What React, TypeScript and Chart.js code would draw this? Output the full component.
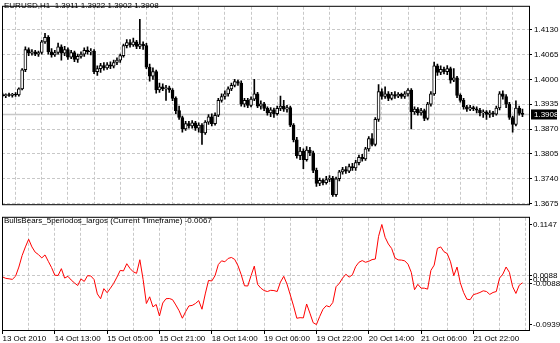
import React, { useEffect, useRef } from 'react';
import { Chart, registerables } from 'chart.js';

Chart.register(...registerables);

const symbolTitle = 'EURUSD,H1  1.3911 1.3922 1.3902 1.3908';
const indicatorTitle = 'BullsBears_5periodos_largos (Current Timeframe) -0.0067';
const timeLabels = ['13 Oct 2010', '14 Oct 13:00', '15 Oct 05:00', '15 Oct 21:00', '18 Oct 14:00', '19 Oct 06:00', '19 Oct 22:00', '20 Oct 14:00', '21 Oct 06:00', '21 Oct 22:00'];
const barsPerLabel = 16;
const barsPerGrid = 8;
const priceTicks = [1.3675, 1.374, 1.3805, 1.387, 1.3935, 1.4, 1.4065, 1.413];
const lastPrice = 1.3908;
const indicatorTicks = [-0.0939, -0.0088, 0, 0.0088, 0.1147];
const indicatorGrid = [-0.0088, 0.0088];

const opens = [
  1.3960, 1.3957, 1.3960, 1.3958, 1.3961, 1.3959, 1.3975, 1.4025, 1.4078, 1.4068,
  1.4072, 1.4066, 1.4070, 1.4098, 1.4110, 1.4072, 1.4064, 1.4070, 1.4085, 1.4068,
  1.4078, 1.4058, 1.4070, 1.4052, 1.4060, 1.4066, 1.4076, 1.4072, 1.4074, 1.4020,
  1.4028, 1.4036, 1.4030, 1.4038, 1.4034, 1.4044, 1.4050, 1.4062, 1.4088, 1.4096,
  1.4090, 1.4098, 1.4086, 1.4092, 1.4088, 1.4032, 1.4008, 1.4020, 1.3972, 1.3980,
  1.3975, 1.3978, 1.3972, 1.3950, 1.3918, 1.3900, 1.3870, 1.3884, 1.3878, 1.3886,
  1.3872, 1.3880, 1.3860, 1.3888, 1.3902, 1.3884, 1.3906, 1.3945, 1.3955, 1.3962,
  1.3975, 1.3984, 1.3994, 1.3990, 1.3935, 1.3945, 1.3932, 1.3948, 1.3962, 1.3930,
  1.3936, 1.3924, 1.3912, 1.3920, 1.3910, 1.3924, 1.3930, 1.3922, 1.3926, 1.3880,
  1.3842, 1.3800, 1.3812, 1.3790, 1.3815, 1.3808, 1.3762, 1.3728, 1.3736, 1.3730,
  1.3738, 1.3742, 1.3698, 1.3740, 1.3758, 1.3764, 1.3760, 1.3772, 1.3768, 1.3782,
  1.3796, 1.3792, 1.3818, 1.3845, 1.3830, 1.3895, 1.3968, 1.3955, 1.3962, 1.3950,
  1.3960, 1.3956, 1.3961, 1.3955, 1.3962, 1.3972, 1.3915, 1.3922, 1.3912, 1.3918,
  1.3898, 1.3935, 1.3962, 1.4035, 1.4018, 1.4026, 1.4020, 1.4028, 1.3998, 1.4004,
  1.3958, 1.3945, 1.3928, 1.3922, 1.3926, 1.3923, 1.3919, 1.3912, 1.3915, 1.3908,
  1.3912, 1.3909, 1.3925, 1.3962, 1.3955, 1.3935, 1.3900, 1.3882, 1.3925, 1.3911,
];
const highs = [
  1.3964, 1.3962, 1.3964, 1.3963, 1.3965, 1.3978, 1.4028, 1.4085, 1.4082, 1.4078,
  1.4076, 1.4074, 1.4102, 1.4120, 1.4114, 1.4080, 1.4076, 1.4095, 1.4090, 1.4086,
  1.4082, 1.4076, 1.4074, 1.4066, 1.4072, 1.4082, 1.4085, 1.4080, 1.4078, 1.4035,
  1.4042, 1.4044, 1.4044, 1.4046, 1.4050, 1.4056, 1.4066, 1.4092, 1.4104, 1.4104,
  1.4108, 1.4102, 1.4157, 1.4098, 1.4094, 1.4040, 1.4030, 1.4024, 1.3990, 1.3988,
  1.3984, 1.3982, 1.3976, 1.3954, 1.3930, 1.3904, 1.3890, 1.3890, 1.3892, 1.3890,
  1.3886, 1.3884, 1.3892, 1.3908, 1.3910, 1.3912, 1.3950, 1.3962, 1.3970, 1.3980,
  1.3990, 1.4000, 1.3998, 1.3996, 1.3950, 1.3950, 1.3954, 1.4000, 1.3966, 1.3944,
  1.3940, 1.3928, 1.3926, 1.3925, 1.3930, 1.3956, 1.3945, 1.3932, 1.3930, 1.3884,
  1.3848, 1.3822, 1.3818, 1.3824, 1.3822, 1.3812, 1.3768, 1.3742, 1.3740, 1.3746,
  1.3748, 1.3746, 1.3744, 1.3762, 1.3770, 1.3772, 1.3778, 1.3780, 1.3788, 1.3802,
  1.3804, 1.3822, 1.3850, 1.3858, 1.3900, 1.3986, 1.3975, 1.3980, 1.3968, 1.3966,
  1.3968, 1.3965, 1.3964, 1.3968, 1.3976, 1.3976, 1.3928, 1.3926, 1.3924, 1.3922,
  1.3940, 1.3968, 1.4045, 1.4040, 1.4035, 1.4032, 1.4036, 1.4032, 1.4028, 1.4008,
  1.3962, 1.3950, 1.3932, 1.3932, 1.3930, 1.3928, 1.3924, 1.3920, 1.3918, 1.3918,
  1.3916, 1.3930, 1.3968, 1.3970, 1.3960, 1.3940, 1.3904, 1.3944, 1.3930, 1.3922,
];
const lows = [
  1.3954, 1.3952, 1.3955, 1.3953, 1.3955, 1.3956, 1.3972, 1.4020, 1.4062, 1.4063,
  1.4062, 1.4060, 1.4066, 1.4094, 1.4066, 1.4058, 1.4060, 1.4066, 1.4050, 1.4062,
  1.4052, 1.4054, 1.4046, 1.4044, 1.4055, 1.4060, 1.4066, 1.4064, 1.4015, 1.4010,
  1.4018, 1.4024, 1.4026, 1.4028, 1.4030, 1.4038, 1.4044, 1.4058, 1.4082, 1.4084,
  1.4086, 1.4080, 1.4080, 1.4078, 1.4028, 1.3995, 1.4000, 1.3964, 1.3966, 1.3970,
  1.3945, 1.3966, 1.3944, 1.3910, 1.3895, 1.3862, 1.3866, 1.3872, 1.3872, 1.3866,
  1.3862, 1.3830, 1.3856, 1.3882, 1.3878, 1.3880, 1.3902, 1.3940, 1.3948, 1.3956,
  1.3970, 1.3980, 1.3984, 1.3930, 1.3928, 1.3926, 1.3928, 1.3944, 1.3926, 1.3922,
  1.3918, 1.3906, 1.3902, 1.3900, 1.3906, 1.3918, 1.3916, 1.3914, 1.3876, 1.3836,
  1.3794, 1.3790, 1.3766, 1.3786, 1.3800, 1.3756, 1.3720, 1.3722, 1.3724, 1.3726,
  1.3732, 1.3694, 1.3694, 1.3734, 1.3752, 1.3754, 1.3756, 1.3762, 1.3762, 1.3776,
  1.3786, 1.3788, 1.3812, 1.3826, 1.3826, 1.3890, 1.3948, 1.3950, 1.3944, 1.3946,
  1.3950, 1.3952, 1.3950, 1.3950, 1.3956, 1.3870, 1.3908, 1.3906, 1.3906, 1.3892,
  1.3894, 1.3930, 1.3958, 1.4010, 1.4012, 1.4014, 1.4012, 1.3990, 1.3994, 1.3952,
  1.3940, 1.3922, 1.3916, 1.3918, 1.3918, 1.3912, 1.3904, 1.3900, 1.3895, 1.3900,
  1.3902, 1.3906, 1.3920, 1.3948, 1.3926, 1.3895, 1.3862, 1.3878, 1.3906, 1.3902,
];
const closes = [
  1.3957, 1.3960, 1.3958, 1.3961, 1.3959, 1.3975, 1.4025, 1.4078, 1.4068, 1.4072,
  1.4066, 1.4070, 1.4098, 1.4110, 1.4072, 1.4064, 1.4070, 1.4085, 1.4068, 1.4078,
  1.4058, 1.4070, 1.4052, 1.4060, 1.4066, 1.4076, 1.4072, 1.4074, 1.4020, 1.4028,
  1.4036, 1.4030, 1.4038, 1.4034, 1.4044, 1.4050, 1.4062, 1.4088, 1.4096, 1.4090,
  1.4098, 1.4086, 1.4092, 1.4088, 1.4032, 1.4008, 1.4020, 1.3972, 1.3980, 1.3975,
  1.3978, 1.3972, 1.3950, 1.3918, 1.3900, 1.3870, 1.3884, 1.3878, 1.3886, 1.3872,
  1.3880, 1.3860, 1.3888, 1.3902, 1.3884, 1.3906, 1.3945, 1.3955, 1.3962, 1.3975,
  1.3984, 1.3994, 1.3990, 1.3935, 1.3945, 1.3932, 1.3948, 1.3962, 1.3930, 1.3936,
  1.3924, 1.3912, 1.3920, 1.3910, 1.3924, 1.3930, 1.3922, 1.3926, 1.3880, 1.3842,
  1.3800, 1.3812, 1.3790, 1.3815, 1.3808, 1.3762, 1.3728, 1.3736, 1.3730, 1.3738,
  1.3742, 1.3698, 1.3740, 1.3758, 1.3764, 1.3760, 1.3772, 1.3768, 1.3782, 1.3796,
  1.3792, 1.3818, 1.3845, 1.3830, 1.3895, 1.3968, 1.3955, 1.3962, 1.3950, 1.3960,
  1.3956, 1.3961, 1.3955, 1.3962, 1.3972, 1.3915, 1.3922, 1.3912, 1.3918, 1.3898,
  1.3935, 1.3962, 1.4035, 1.4018, 1.4026, 1.4020, 1.4028, 1.3998, 1.4004, 1.3958,
  1.3945, 1.3928, 1.3922, 1.3926, 1.3923, 1.3919, 1.3912, 1.3915, 1.3908, 1.3912,
  1.3909, 1.3925, 1.3962, 1.3955, 1.3935, 1.3900, 1.3882, 1.3925, 1.3911, 1.3908,
];
const bullsBears = [
  0.0055, 0.0025, 0.0015, 0.0003, 0.0070, 0.0260, 0.0500, 0.0680, 0.0840, 0.0680,
  0.0570, 0.0520, 0.0450, 0.0513, 0.0380, 0.0250, 0.0090, 0.0085, 0.0227, 0.0030,
  0.0067, -0.0010, -0.0070, -0.0125, 0.0013, -0.0040, 0.0080, 0.0075, 0.0000, -0.0300,
  -0.0400, -0.0190, -0.0275, -0.0180, -0.0080, 0.0050, 0.0190, 0.0180, 0.0330, 0.0230,
  0.0160, 0.0130, 0.0413, 0.0000, -0.0500, -0.0360, -0.0570, -0.0520, -0.0760, -0.0490,
  -0.0400, -0.0395, -0.0420, -0.0530, -0.0650, -0.0807, -0.0670, -0.0550, -0.0540, -0.0500,
  -0.0440, -0.0619, -0.0300, -0.0019, -0.0030, 0.0080, 0.0313, 0.0390, 0.0370, 0.0440,
  0.0460, 0.0420, 0.0290, 0.0100, -0.0130, -0.0135, 0.0080, 0.0280, -0.0100, -0.0180,
  -0.0230, -0.0250, -0.0225, -0.0230, -0.0250, -0.0053, 0.0067, -0.0095, -0.0320, -0.0550,
  -0.0807, -0.0795, -0.0800, -0.0510, -0.0700, -0.0900, -0.0939, -0.0770, -0.0620, -0.0545,
  -0.0570, -0.0480, -0.0150, -0.0080, 0.0030, 0.0110, 0.0050, 0.0100, 0.0270, 0.0360,
  0.0395, 0.0360, 0.0380, 0.0415, 0.0427, 0.0900, 0.1147, 0.0880, 0.0740, 0.0647,
  0.0450, 0.0410, 0.0405, 0.0390, 0.0320, 0.0150, -0.0213, -0.0100, -0.0180, -0.0180,
  -0.0200, 0.0190, 0.0300, 0.0650, 0.0680, 0.0580, 0.0540, 0.0370, 0.0081, 0.0260,
  -0.0070, -0.0270, -0.0410, -0.0420, -0.0315, -0.0295, -0.0270, -0.0235, -0.0250, -0.0310,
  -0.0270, -0.0250, 0.0030, 0.0113, 0.0261, 0.0150, -0.0150, -0.0290, -0.0120, -0.0067,
];

const FONT = "'Liberation Sans', Arial, sans-serif";
const GRID = '#c8c8c8';
const X_MIN = -0.153;
const X_MAX = 161.0;

const gridIndices: number[] = [];
for (let i = 0; i <= 160; i += barsPerGrid) gridIndices.push(i);

function framePlugin(title: string, titleY: number) {
  return {
    id: 'frame',
    afterDraw(chart: any) {
      const { ctx, chartArea: a } = chart;
      ctx.save();
      ctx.strokeStyle = '#000';
      ctx.lineWidth = 1;
      ctx.strokeRect(a.left + 0.5, a.top - 0.5, a.right - a.left, a.bottom - a.top);
      ctx.fillStyle = '#000';
      ctx.font = `8px ${FONT}`;
      ctx.textBaseline = 'middle';
      ctx.textAlign = 'left';
      ctx.fillText(title, 4, titleY);
      ctx.restore();
    },
  };
}

const bidPlugin = {
  id: 'bid',
  beforeDatasetsDraw(chart: any) {
    const { ctx, chartArea: a, scales } = chart;
    const y = Math.round(scales.y.getPixelForValue(lastPrice)) + 0.5;
    ctx.save();
    ctx.strokeStyle = '#c8c8c8';
    ctx.lineWidth = 1.5;
    ctx.beginPath();
    ctx.moveTo(a.left, y);
    ctx.lineTo(a.right, y);
    ctx.stroke();
    ctx.restore();
  },
  afterDraw(chart: any) {
    const { ctx, chartArea: a, scales } = chart;
    const y = scales.y.getPixelForValue(lastPrice);
    ctx.save();
    ctx.fillStyle = '#000';
    ctx.fillRect(a.right + 2, y - 5, 26, 10);
    ctx.fillStyle = '#fff';
    ctx.font = `8px ${FONT}`;
    ctx.textBaseline = 'middle';
    ctx.textAlign = 'left';
    ctx.fillText(lastPrice.toFixed(4), a.right + 5, y);
    ctx.restore();
  },
};

export default function App() {
  const topRef = useRef<HTMLCanvasElement>(null);
  const botRef = useRef<HTMLCanvasElement>(null);

  useEffect(() => {
    const wickData = highs.map((h, i) => ({ x: i, y: [lows[i], h] }));
    const bodyData = opens.map((o, i) => ({ x: i, y: [Math.min(o, closes[i]), Math.max(o, closes[i])] }));
    const bodyColors = opens.map((o, i) => (closes[i] >= o ? '#ffffff' : '#000000'));

    const xScaleBase = {
      type: 'linear' as const,
      min: X_MIN,
      max: X_MAX,
      offset: false,
      afterBuildTicks: (s: any) => {
        s.ticks = gridIndices.map((v) => ({ value: v }));
      },
    };

    const top = new Chart(topRef.current!, {
      type: 'bar',
      data: {
        datasets: [
          {
            data: bodyData as any,
            backgroundColor: bodyColors,
            borderColor: '#000',
            borderWidth: 1,
            borderSkipped: false,
            barThickness: 3,
            grouped: false,
            order: 0,
          },
          {
            data: wickData as any,
            backgroundColor: '#000',
            borderWidth: 0,
            barThickness: 1,
            grouped: false,
            order: 1,
          },
        ],
      },
      options: {
        animation: false,
        responsive: false,
        maintainAspectRatio: false,
        events: [],
        layout: { padding: { left: 2, top: 1, right: 0, bottom: 2 } },
        plugins: { legend: { display: false }, tooltip: { enabled: false } },
        scales: {
          x: {
            ...xScaleBase,
            afterFit: (s: any) => {
              s.height = 0;
            },
            ticks: { display: false },
            grid: {
              color: (c: any) => (c.tick && c.tick.value > 0 ? GRID : 'transparent'),
              drawTicks: false,
            },
            border: { display: false, dash: [3, 2] },
          } as any,
          y: {
            position: 'right',
            min: 1.367078,
            max: 1.418957,
            afterFit: (s: any) => {
              s.width = 31;
            },
            afterBuildTicks: (s: any) => {
              s.ticks = priceTicks.map((v) => ({ value: v }));
            },
            ticks: {
              autoSkip: false,
              padding: 2,
              color: '#000',
              font: { family: FONT, size: 8 },
              callback: (v: any) => Number(v).toFixed(4),
            },
            grid: {
              color: GRID,
              tickColor: '#000',
              tickLength: 3,
              tickBorderDash: [],
            },
            border: { display: false, dash: [3, 2] },
          } as any,
        },
      },
      plugins: [bidPlugin, framePlugin(symbolTitle, 6)],
    });

    const bot = new Chart(botRef.current!, {
      type: 'line',
      data: {
        datasets: [
          {
            data: bullsBears.map((v, i) => ({ x: i, y: v })),
            borderColor: '#ff0000',
            borderWidth: 1,
            pointRadius: 0,
            tension: 0,
            fill: false,
          },
        ],
      },
      options: {
        animation: false,
        responsive: false,
        maintainAspectRatio: false,
        events: [],
        layout: { padding: { left: 2, top: 1, right: 0, bottom: 0 } },
        plugins: { legend: { display: false }, tooltip: { enabled: false } },
        scales: {
          x: {
            ...xScaleBase,
            afterFit: (s: any) => {
              s.height = 12;
            },
            ticks: {
              autoSkip: false,
              maxRotation: 0,
              align: 'start',
              padding: 0,
              color: '#000',
              font: { family: FONT, size: 8 },
              callback: (v: any) => {
                const n = Number(v);
                return n % barsPerLabel === 0 ? timeLabels[n / barsPerLabel] ?? '' : '';
              },
            },
            grid: {
              color: (c: any) => (c.tick && c.tick.value > 0 ? GRID : 'transparent'),
              tickColor: (c: any) => (c.tick && c.tick.value % barsPerLabel === 0 && c.tick.value / barsPerLabel < timeLabels.length ? '#000' : 'transparent'),
              tickLength: 3,
              tickBorderDash: [],
            },
            border: { display: false, dash: [3, 2] },
          } as any,
          y: {
            position: 'right',
            min: -0.1073,
            max: 0.1287,
            afterFit: (s: any) => {
              s.width = 31;
            },
            afterBuildTicks: (s: any) => {
              s.ticks = indicatorTicks.map((v) => ({ value: v }));
            },
            ticks: {
              autoSkip: false,
              padding: 1,
              color: '#000',
              font: { family: FONT, size: 8 },
              callback: (v: any) => (Number(v) === 0 ? '0.00' : Number(v).toFixed(4)),
            },
            grid: {
              color: (c: any) => (c.tick && indicatorGrid.includes(c.tick.value) ? GRID : 'transparent'),
              tickColor: '#000',
              tickLength: 3,
              tickBorderDash: [],
            },
            border: { display: false, dash: [3, 2] },
          } as any,
        },
      },
      plugins: [framePlugin(indicatorTitle, 9)],
    });

    return () => {
      top.destroy();
      bot.destroy();
    };
  }, []);

  return (
    <div style={{ position: 'absolute', left: 0, top: 0, width: 560, height: 343, background: '#fff', overflow: 'hidden' }}>
      <canvas ref={topRef} width={560} height={212} style={{ position: 'absolute', left: 0, top: 0 }} />
      <canvas ref={botRef} width={560} height={131} style={{ position: 'absolute', left: 0, top: 212 }} />
    </div>
  );
}
